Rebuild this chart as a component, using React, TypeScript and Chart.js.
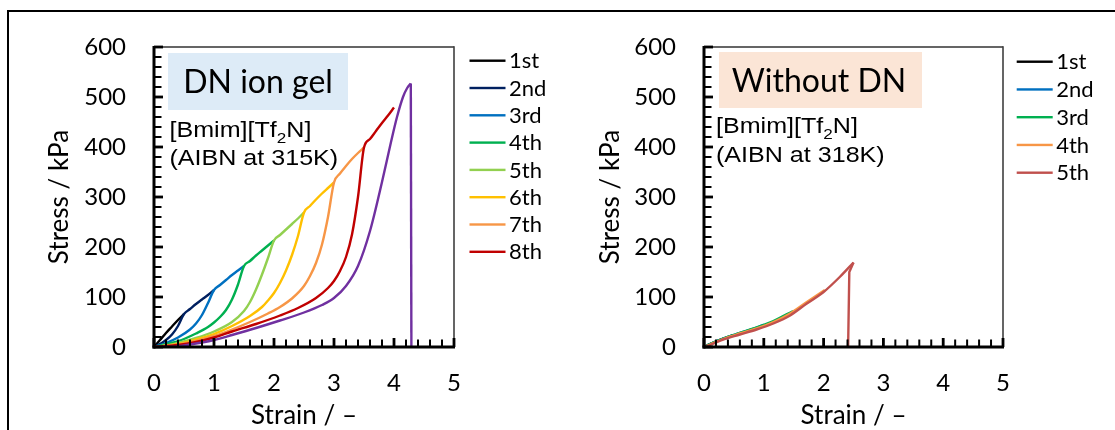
import { useEffect, useRef } from 'react';
import { Chart, registerables } from 'chart.js';

Chart.register(...registerables);

// ---------- axis ticks ----------
const strainTicks = [0, 1, 2, 3, 4, 5];
const stressTicks = [0, 100, 200, 300, 400, 500, 600];
const strainMinorStep = 0.2;
const stressMinorStep = 20;

// ---------- DN ion gel (left panel) ----------
const dnLegend = ['1st', '2nd', '3rd', '4th', '5th', '6th', '7th', '8th'];
const dnColors = ['#000000', '#002060', '#0070C0', '#00B050', '#92D050', '#FFC000', '#F79646', '#C00000', '#7030A0'];

const dnStrain1 = [0, 0.1, 0.2, 0.3, 0.4, 0.5];
const dnStress1 = [0, 14, 28, 41, 54, 66];
const dnStrain2 = [0, 0.1, 0.2, 0.3, 0.4, 0.5, 0.6, 0.7, 0.8, 0.9, 1.0];
const dnStress2 = [0, 6, 14, 25, 42, 66, 76, 86, 95, 104, 114];
const dnStrain3 = [0, 0.2, 0.4, 0.6, 0.7, 0.8, 0.9, 1.0, 1.1, 1.2, 1.3, 1.4, 1.5];
const dnStress3 = [0, 8, 19, 35, 47, 64, 88, 114, 124, 134, 144, 153, 162];
const dnStrain4 = [0, 0.25, 0.5, 0.7, 0.9, 1.0, 1.1, 1.2, 1.3, 1.4, 1.5, 1.6, 1.7, 1.8, 1.9, 2.0];
const dnStress4 = [0, 7, 16, 27, 40, 49, 60, 74, 95, 125, 162, 172, 183, 193, 203, 213];
const dnStrain5 = [0, 0.3, 0.7, 1.0, 1.3, 1.5, 1.6, 1.7, 1.8, 1.9, 2.0, 2.1, 2.2, 2.3, 2.4, 2.5];
const dnStress5 = [0, 5, 18, 31, 50, 72, 90, 115, 145, 178, 213, 224, 235, 246, 257, 269];
const dnStrain6 = [0, 0.4, 0.7, 1.0, 1.3, 1.6, 1.8, 1.9, 2.0, 2.1, 2.2, 2.3, 2.4, 2.5, 2.6, 2.7, 2.8, 2.9, 3.0];
const dnStress6 = [0, 6, 15, 26, 42, 62, 80, 93, 108, 128, 153, 184, 222, 269, 282, 295, 307, 318, 329];
const dnStrain7 = [0, 0.4, 0.7, 1.0, 1.3, 1.6, 1.9, 2.1, 2.3, 2.5, 2.6, 2.7, 2.8, 2.9, 3.0, 3.1, 3.2, 3.3, 3.4, 3.5];
const dnStress7 = [0, 5, 12, 22, 35, 50, 67, 80, 97, 122, 142, 168, 205, 260, 329, 347, 362, 376, 388, 399];
const dnStrain8 = [0, 0.4, 0.7, 1.0, 1.3, 1.7, 2.1, 2.4, 2.7, 2.9, 3.0, 3.1, 3.2, 3.3, 3.4, 3.5, 3.6, 3.7, 3.8, 3.9, 4.0];
const dnStress8 = [0, 4, 10, 19, 31, 46, 63, 78, 98, 118, 132, 152, 180, 225, 300, 399, 416, 432, 448, 463, 479];
const dnStrain9 = [0, 0.3, 0.5, 0.8, 1.0, 1.3, 1.7, 2.1, 2.5, 2.8, 3.0, 3.2, 3.4, 3.6, 3.8, 3.95, 4.05, 4.15, 4.22, 4.28];
const dnStress9 = [0, 0, 3, 9, 14, 24, 38, 53, 69, 84, 98, 122, 162, 232, 330, 410, 460, 500, 518, 527];
const dnBreakStrain = [4.28, 4.29];
const dnBreakStress = [527, 0];

// ---------- Without DN (right panel) ----------
const woLegend = ['1st', '2nd', '3rd', '4th', '5th'];
const woColors = ['#000000', '#0070C0', '#00B050', '#F79646', '#C0504D'];

const woStrain1 = [0, 0.1, 0.3, 0.5];
const woStress1 = [0, 6, 16, 24];
const woStrain2 = [0, 0.1, 0.32, 0.6, 0.88, 1.0];
const woStress2 = [0, 6, 17, 28, 39, 45];
const woStrain3 = [0, 0.1, 0.32, 0.6, 0.88, 1.16, 1.49];
const woStress3 = [0, 6, 17, 28, 39, 52, 72];
const woStrain4 = [0, 0.1, 0.32, 0.6, 0.88, 1.16, 1.44, 1.72, 2.02];
const woStress4 = [0, 5, 16, 27, 37, 50, 67, 90, 114];
const woStrain5 = [0, 0.1, 0.32, 0.6, 0.88, 1.16, 1.44, 1.72, 2.0, 2.27, 2.5];
const woStress5 = [0, 4, 15, 25, 35, 47, 63, 87, 110, 140, 169];
const woBreakStrain = [2.5, 2.43, 2.41];
const woBreakStress = [169, 150, 0];

const CAL = 'Lato, "Open Sans", sans-serif';
const ARIAL = '"Liberation Sans", Arial, sans-serif';

const pts = (xs: number[], ys: number[]) => xs.map((x, i) => ({ x, y: ys[i] }));

function lineSet(label: string, xs: number[], ys: number[], color: string, order: number, smooth = true) {
  return {
    label,
    data: pts(xs, ys),
    borderColor: color,
    backgroundColor: color,
    borderWidth: 2.4,
    pointRadius: 0,
    fill: false,
    order,
    tension: smooth ? 0.4 : 0,
    cubicInterpolationMode: smooth ? 'monotone' : 'default',
  };
}

type Panel = {
  datasets: any[];
  legend: string[];
  colors: string[];
  title: string;
  titleBg: string;
  line2: string;
  g: any;
};

function drawFrame(chart: any) {
  const ctx: CanvasRenderingContext2D = chart.ctx;
  const area = chart.chartArea;
  const left = area.left;
  const right = area.right;
  const top = area.top;
  const bottom = area.bottom;
  const xs = chart.scales['x'];
  const ys = chart.scales['y'];
  ctx.save();
  // thin top and right frame
  ctx.fillStyle = '#404040';
  ctx.fillRect(left, top - 0.8, right - left, 1.6);
  ctx.fillRect(right - 0.8, top - 0.8, 1.6, bottom - top);

  ctx.fillStyle = '#000000';
  const yMax = stressTicks[stressTicks.length - 1];
  const nY = Math.round(yMax / stressMinorStep);
  for (let i = 0; i <= nY; i++) {
    const v = i * stressMinorStep;
    const major = stressTicks.indexOf(v) >= 0;
    const py = ys.getPixelForValue(v);
    const w = major ? 2.8 : 2;
    ctx.fillRect(left, py - w / 2, major ? 9 : 7.5, w);
  }
  const xMax = strainTicks[strainTicks.length - 1];
  const nX = Math.round(xMax / strainMinorStep);
  const per = Math.round(1 / strainMinorStep);
  for (let i = 0; i <= nX; i++) {
    const v = i * strainMinorStep;
    const major = i % per === 0;
    const px = xs.getPixelForValue(v);
    const w = major ? 2.8 : 2;
    const len = major ? 9 : 7.5;
    ctx.fillRect(px - w / 2, bottom - len, w, len);
  }
  // thick left and bottom axis lines
  ctx.fillRect(left - 1.5, top - 1, 3, bottom - top + 2.5);
  ctx.fillRect(left - 1.5, bottom - 1.5, right - left + 2.5, 3);
  ctx.restore();
}

function decorPlugin(p: Panel) {
  return {
    id: 'decor',
    beforeDatasetsDraw(chart: any) {
      const { ctx, chartArea } = chart;
      const { left, top } = chartArea;
      const g = p.g;
      ctx.save();
      ctx.fillStyle = p.titleBg;
      ctx.fillRect(left + g.box[0], top + g.box[1], g.box[2], g.box[3]);
      ctx.fillStyle = '#000';
      ctx.font = `${g.titleSize}px ${CAL}`;
      ctx.textAlign = 'center';
      ctx.textBaseline = 'alphabetic';
      ctx.fillText(p.title, left + g.titleX, top + g.titleBase);
      ctx.restore();

      ctx.save();
      ctx.translate(left + g.subX, top);
      ctx.scale(g.subStretch, 1);
      ctx.fillStyle = '#000';
      ctx.textAlign = 'left';
      ctx.textBaseline = 'alphabetic';
      const fs = g.subSize;
      ctx.font = `${fs}px ${ARIAL}`;
      let tx = 0;
      const a = '[Bmim][Tf';
      ctx.fillText(a, tx, g.subBase1);
      tx += ctx.measureText(a).width;
      ctx.font = `${Math.round(fs * 0.68)}px ${ARIAL}`;
      ctx.fillText('2', tx, g.subBase1 + 6);
      tx += ctx.measureText('2').width;
      ctx.font = `${fs}px ${ARIAL}`;
      ctx.fillText('N]', tx, g.subBase1);
      ctx.fillText(p.line2, 0, g.subBase2);
      ctx.restore();
    },
    afterDraw(chart: any) {
      drawFrame(chart);
      const { ctx, chartArea } = chart;
      const g = p.g;
      ctx.save();
      ctx.font = `${g.legendSize}px ${CAL}`;
      ctx.textAlign = 'left';
      ctx.textBaseline = 'alphabetic';
      p.legend.forEach((lab, i) => {
        const yy = g.legendY0 + g.legendDy * i;
        const x0 = chartArea.right + g.legendX;
        ctx.fillStyle = p.colors[i];
        ctx.fillRect(x0, yy - 1.2, 36, 2.4);
        ctx.fillStyle = '#000';
        ctx.fillText(lab, x0 + 39.5, yy + 7.6);
      });
      ctx.restore();
    },
  };
}

function makeChart(canvas: HTMLCanvasElement, p: Panel) {
  const g = p.g;
  const tickFont = { family: CAL, size: 24 };
  const titleFont = { family: CAL, size: 26 };
  return new Chart(canvas, {
    type: 'line',
    data: { datasets: p.datasets },
    plugins: [decorPlugin(p)],
    options: {
      responsive: false,
      animation: false,
      events: [],
      layout: { padding: { left: 0, top: 47, right: g.padRight, bottom: 0 } },
      plugins: { legend: { display: false }, tooltip: { enabled: false }, title: { display: false } },
      scales: {
        x: {
          type: 'linear',
          min: strainTicks[0],
          max: strainTicks[strainTicks.length - 1],
          afterBuildTicks: (s: any) => { s.ticks = strainTicks.map((v) => ({ value: v })); },
          ticks: { font: tickFont, color: '#000', padding: 22, maxRotation: 0, autoSkip: false },
          grid: { display: false, drawTicks: false },
          border: { display: false },
          title: { display: true, text: 'Strain / –', color: '#000', font: titleFont, padding: { top: 0, bottom: -1 } },
          afterFit: (s: any) => { s.height = 83; },
        },
        y: {
          type: 'linear',
          min: stressTicks[0],
          max: stressTicks[stressTicks.length - 1],
          afterBuildTicks: (s: any) => { s.ticks = stressTicks.map((v) => ({ value: v })); },
          ticks: { font: tickFont, color: '#000', padding: 28, autoSkip: false },
          grid: { display: false, drawTicks: false },
          border: { display: false },
          title: { display: true, text: 'Stress / kPa', color: '#000', font: titleFont, padding: { top: g.yTitlePad, bottom: 0 } },
          afterFit: (s: any) => { s.width = g.yAxisWidth; },
        },
      },
    } as any,
  });
}

const leftPanel: Panel = {
  datasets: [
    lineSet(dnLegend[0], dnStrain1, dnStress1, dnColors[0], 10),
    lineSet(dnLegend[1], dnStrain2, dnStress2, dnColors[1], 9),
    lineSet(dnLegend[2], dnStrain3, dnStress3, dnColors[2], 8),
    lineSet(dnLegend[3], dnStrain4, dnStress4, dnColors[3], 7),
    lineSet(dnLegend[4], dnStrain5, dnStress5, dnColors[4], 6),
    lineSet(dnLegend[5], dnStrain6, dnStress6, dnColors[5], 5),
    lineSet(dnLegend[6], dnStrain7, dnStress7, dnColors[6], 4),
    lineSet(dnLegend[7], dnStrain8, dnStress8, dnColors[7], 3),
    lineSet('9th', dnStrain9, dnStress9, dnColors[8], 2),
    lineSet('9th break', dnBreakStrain, dnBreakStress, dnColors[8], 1, false),
  ],
  legend: dnLegend,
  colors: dnColors,
  title: 'DN ion gel',
  titleBg: '#DDEBF7',
  line2: '(AIBN at 315K)',
  g: {
    padRight: 103, yAxisWidth: 154, yTitlePad: 44,
    box: [14, 6, 180, 57], titleSize: 32, titleX: 104, titleBase: 46,
    subSize: 22, subStretch: 1.14, subX: 15.5, subBase1: 90, subBase2: 118,
    legendSize: 22, legendX: 15.5, legendY0: 60.7, legendDy: 27.3,
  },
};

const rightPanel: Panel = {
  datasets: [
    lineSet(woLegend[0], woStrain1, woStress1, woColors[0], 10),
    lineSet(woLegend[1], woStrain2, woStress2, woColors[1], 9),
    lineSet(woLegend[2], woStrain3, woStress3, woColors[2], 8),
    lineSet(woLegend[3], woStrain4, woStress4, woColors[3], 7),
    lineSet(woLegend[4], woStrain5, woStress5, woColors[4], 6),
    lineSet('5th break', woBreakStrain, woBreakStress, woColors[4], 5, false),
  ],
  legend: woLegend,
  colors: woColors,
  title: 'Without DN',
  titleBg: '#FBE5D6',
  line2: '(AIBN at 318K)',
  g: {
    padRight: 112, yAxisWidth: 147, yTitlePad: 38,
    box: [15, 5, 203, 56], titleSize: 32, titleX: 115, titleBase: 45,
    subSize: 22, subStretch: 1.14, subX: 12, subBase1: 86, subBase2: 115,
    legendSize: 22, legendX: 13.7, legendY0: 61.7, legendDy: 27.75,
  },
};

export default function App() {
  const leftRef = useRef<HTMLCanvasElement>(null);
  const rightRef = useRef<HTMLCanvasElement>(null);
  useEffect(() => {
    const c1 = makeChart(leftRef.current!, leftPanel);
    const c2 = makeChart(rightRef.current!, rightPanel);
    return () => { c1.destroy(); c2.destroy(); };
  }, []);
  return (
    <div style={{ position: 'absolute', left: 0, top: 0, width: 1115, height: 430, background: '#fff', overflow: 'hidden' }}>
      <canvas ref={leftRef} width={557} height={430} style={{ position: 'absolute', left: 0, top: 0, width: 557, height: 430 }} />
      <canvas ref={rightRef} width={558} height={430} style={{ position: 'absolute', left: 557, top: 0, width: 558, height: 430 }} />
      <div style={{ position: 'absolute', left: 7, top: 10, width: 1108, height: 420, boxSizing: 'border-box', borderLeft: '2.5px solid #000', borderTop: '2.5px solid #000', pointerEvents: 'none' }} />
    </div>
  );
}
